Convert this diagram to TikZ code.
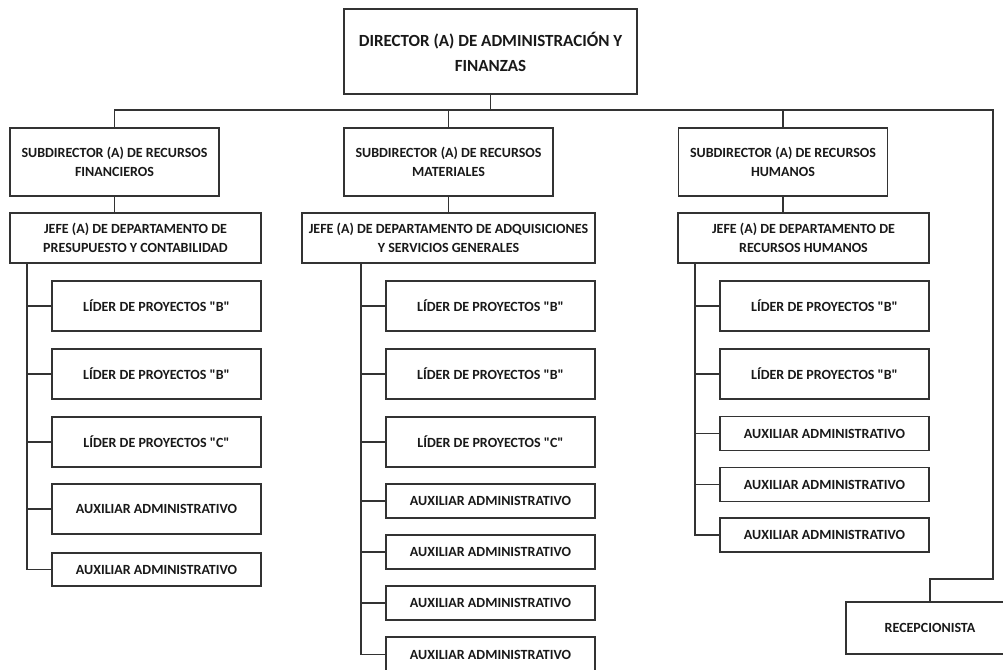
\documentclass[tikz,border=0pt]{standalone}
\usepackage{fontspec}
\setmainfont{Carlito}[Ligatures=TeXOff]
\usetikzlibrary{positioning}

\tikzset{
  orgbox/.style={draw=black!80, line width=1.6pt, fill=white, inner sep=0pt,
    align=center, text=black!90},
  dirbox/.style={orgbox, minimum width=293pt, minimum height=85pt,
    font=\fontsize{17}{25}\selectfont\bfseries},
  subbox/.style={orgbox, minimum width=209pt, minimum height=68pt,
    font=\fontsize{14}{19}\selectfont\bfseries},
  jefebox/.style={orgbox, minimum height=50pt,
    font=\fontsize{14}{19}\selectfont\bfseries},
  puestobox/.style={orgbox, minimum width=209pt, minimum height=50pt,
    font=\fontsize{14}{19}\selectfont\bfseries},
  auxbox/.style={puestobox, minimum height=34pt}
}

\begin{document}
\begin{tikzpicture}[x=1pt, y=-1pt, line width=1.6pt, color=black!80]
  \useasboundingbox (0,0) rectangle (1003,669);

  \node[dirbox] (dir) at (490.5,51.5) {DIRECTOR (A) DE ADMINISTRACIÓN Y\\FINANZAS};

  \node[subbox] (sf) at (114.5,162) {SUBDIRECTOR (A) DE RECURSOS\\FINANCIEROS};
  \node[subbox] (sm) at (448.5,162) {SUBDIRECTOR (A) DE RECURSOS\\MATERIALES};
  \node[subbox] (sh) at (783,162) {SUBDIRECTOR (A) DE RECURSOS\\HUMANOS};

  \node[jefebox, minimum width=251pt] (jp) at (135.5,238) {JEFE (A) DE DEPARTAMENTO DE\\PRESUPUESTO Y CONTABILIDAD};
  \node[jefebox, minimum width=293pt] (jm) at (448.5,238) {JEFE (A) DE DEPARTAMENTO DE ADQUISICIONES\\Y SERVICIOS GENERALES};
  \node[jefebox, minimum width=251pt] (jh) at (803.5,238) {JEFE (A) DE DEPARTAMENTO DE\\RECURSOS HUMANOS};

  \node[puestobox] (p1) at (156.5,306) {LÍDER DE PROYECTOS "B"};
  \node[puestobox] (p2) at (156.5,374) {LÍDER DE PROYECTOS "B"};
  \node[puestobox] (p3) at (156.5,442) {LÍDER DE PROYECTOS "C"};
  \node[puestobox] (p4) at (156.5,509) {AUXILIAR ADMINISTRATIVO};
  \node[auxbox, minimum height=33pt] (p5) at (156.5,569.5) {AUXILIAR ADMINISTRATIVO};

  \node[puestobox] (m1) at (490.5,306) {LÍDER DE PROYECTOS "B"};
  \node[puestobox] (m2) at (490.5,374) {LÍDER DE PROYECTOS "B"};
  \node[puestobox] (m3) at (490.5,442) {LÍDER DE PROYECTOS "C"};
  \node[auxbox] (m4) at (490.5,501) {AUXILIAR ADMINISTRATIVO};
  \node[auxbox] (m5) at (490.5,552) {AUXILIAR ADMINISTRATIVO};
  \node[auxbox] (m6) at (490.5,603) {AUXILIAR ADMINISTRATIVO};
  \node[auxbox, minimum height=35pt] (m7) at (490.5,654.5) {AUXILIAR ADMINISTRATIVO};

  \node[puestobox] (h1) at (824.5,306) {LÍDER DE PROYECTOS "B"};
  \node[puestobox] (h2) at (824.5,374) {LÍDER DE PROYECTOS "B"};
  \node[auxbox] (h3) at (824.5,433.5) {AUXILIAR ADMINISTRATIVO};
  \node[auxbox] (h4) at (824.5,484.5) {AUXILIAR ADMINISTRATIVO};
  \node[auxbox] (h5) at (824.5,535) {AUXILIAR ADMINISTRATIVO};

  \node[puestobox, minimum width=168pt, minimum height=52pt] (rec) at (930,628) {RECEPCIONISTA};

  \coordinate (bus) at (0,110);
  \coordinate (rk) at (993,579);
  \coordinate (tp) at (27,0);
  \coordinate (tm) at (361,0);
  \coordinate (th) at (695,0);

  \draw (dir.south) -- (dir.south |- bus);
  \draw (sf.north) |- (rk |- bus) -- (rk) -| (rec.north);
  \draw (sm.north) -- (sm.north |- bus);
  \draw (sh.north) -- (sh.north |- bus);

  \draw (sf.south) -- (sf.south |- jp.north);
  \draw (sm.south) -- (sm.south |- jm.north);
  \draw (sh.south) -- (sh.south |- jh.north);

  \draw (tp |- jp.south) |- (p5.west);
  \foreach \n in {p1,p2,p3,p4}
    \draw (\n.west) -- (\n.west -| tp);

  \draw (tm |- jm.south) |- (m7.west);
  \foreach \n in {m1,m2,m3,m4,m5,m6}
    \draw (\n.west) -- (\n.west -| tm);

  \draw (th |- jh.south) |- (h5.west);
  \foreach \n in {h1,h2,h3,h4}
    \draw (\n.west) -- (\n.west -| th);
\end{tikzpicture}
\end{document}
